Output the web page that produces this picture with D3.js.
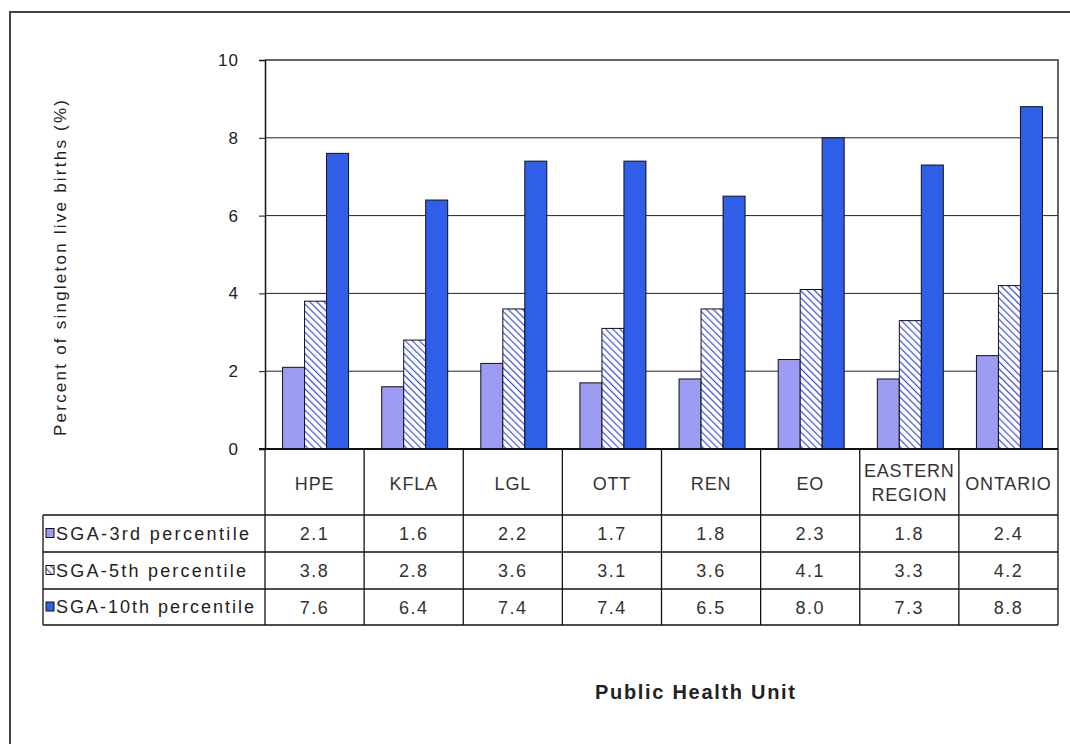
<!DOCTYPE html>
<html>
<head>
<meta charset="utf-8">
<script src="https://cdn.jsdelivr.net/npm/d3@7"></script>
<style>
body{margin:0;background:#fff;}
svg{display:block;font-family:Arial,"Liberation Sans",sans-serif;}
</style>
</head>
<body>
<svg id="chart" width="1070" height="744"></svg>
<script>
const categories = ["HPE","KFLA","LGL","OTT","REN","EO","EASTERN REGION","ONTARIO"];
const seriesNames = ["SGA-3rd percentile","SGA-5th percentile","SGA-10th percentile"];
const sga3 = [2.1,1.6,2.2,1.7,1.8,2.3,1.8,2.4];
const sga5 = [3.8,2.8,3.6,3.1,3.6,4.1,3.3,4.2];
const sga10 = [7.6,6.4,7.4,7.4,6.5,8.0,7.3,8.8];
const yTicks = [0,2,4,6,8,10];
const seriesValues = [sga3, sga5, sga10];

const svg = d3.select("#chart");
const defs = svg.append("defs");
const pat = defs.append("pattern").attr("id","hatch").attr("patternUnits","userSpaceOnUse")
  .attr("width",5).attr("height",5).attr("patternTransform","rotate(-45)");
pat.append("rect").attr("width",5).attr("height",5).attr("fill","#fff");
pat.append("line").attr("x1",0).attr("y1",0).attr("x2",0).attr("y2",5)
  .attr("stroke","#3a4fd8").attr("stroke-width",2.4);

const fills = ["#9c9cf2","url(#hatch)","#2f5fe8"];

// outer frame
svg.append("rect").attr("x",10).attr("y",12).attr("width",1080).attr("height",760)
  .attr("fill","none").attr("stroke","#444").attr("stroke-width",2);

const L=265, R=1058, T=60, B=449;
const x = d3.scaleBand().domain(categories).range([L,R]).padding(0);
const y = d3.scaleLinear().domain([0,10]).range([B,T]);
const bw = 22;
const xs = d3.scaleBand().domain(seriesNames).range([0,bw*3]);

// gridlines
svg.append("g").selectAll("line").data(yTicks.filter(t=>t>0 && t<10)).join("line")
  .attr("x1",L).attr("x2",R).attr("y1",d=>y(d)).attr("y2",d=>y(d))
  .attr("stroke","#222").attr("stroke-width",1);

// plot frame (top/right)
svg.append("path").attr("d",`M${L},${T}H${R}V${B}`).attr("fill","none")
  .attr("stroke","#333").attr("stroke-width",1.5);

// bars
categories.forEach((c,i)=>{
  const gx = x(c) + x.bandwidth()/2 - bw*1.5 + 1;
  seriesNames.forEach((s,j)=>{
    const v = seriesValues[j][i];
    svg.append("rect").attr("x",gx+xs(s)).attr("y",y(v)).attr("width",bw)
      .attr("height",y(0)-y(v)).attr("fill",fills[j]).attr("stroke","#111").attr("stroke-width",1);
  });
});

// y axis
const yAxis = d3.axisLeft(y).tickValues(yTicks).tickSize(6).tickPadding(20).tickFormat(d3.format("d"));
const ga = svg.append("g").attr("transform",`translate(${L},0)`).call(yAxis);
ga.select(".domain").attr("stroke","#111").attr("stroke-width",1.5);
ga.selectAll(".tick line").attr("stroke","#111");
ga.selectAll("text").attr("font-size",17).attr("letter-spacing",1).attr("fill","#222").attr("font-family","Arial,'Liberation Sans',sans-serif");

// baseline
svg.append("line").attr("x1",L-6).attr("x2",R).attr("y1",B).attr("y2",B).attr("stroke","#111").attr("stroke-width",2);

// y label
svg.append("text").attr("transform","translate(66,268) rotate(-90)").attr("text-anchor","middle")
  .attr("font-size",17).attr("fill","#222").attr("textLength",336).attr("lengthAdjust","spacing")
  .text("Percent of singleton live births (%)");

// table
const rowTop = [515,552,589];
const rowH = [37,37,36];
const tableBottom = 625;
const tg = svg.append("g");
categories.forEach((c,i)=>{
  tg.append("line").attr("x1",x(c)).attr("x2",x(c)).attr("y1",B).attr("y2",tableBottom)
    .attr("stroke","#111").attr("stroke-width",1.3);
});
tg.append("line").attr("x1",R).attr("x2",R).attr("y1",B).attr("y2",tableBottom).attr("stroke","#111").attr("stroke-width",1.3);
tg.append("line").attr("x1",43).attr("x2",43).attr("y1",rowTop[0]).attr("y2",tableBottom).attr("stroke","#111").attr("stroke-width",1.3);
[...rowTop, tableBottom].forEach(yy=>{
  tg.append("line").attr("x1",43).attr("x2",R).attr("y1",yy).attr("y2",yy).attr("stroke","#111").attr("stroke-width",1.3);
});
// header labels
categories.forEach(c=>{
  const cx = x(c)+x.bandwidth()/2;
  const words = c.split(" ");
  const t = tg.append("text").attr("x",cx).attr("text-anchor","middle").attr("font-size",18)
    .attr("letter-spacing",0.8).attr("fill","#333");
  if(words.length===1){
    t.attr("y",490).text(c);
  } else {
    words.forEach((w,k)=>t.append("tspan").attr("x",cx).attr("y",477+k*24).text(w));
  }
});
// legend cells + values
const legendLens = [193,190,198];
seriesNames.forEach((s,j)=>{
  const cy = rowTop[j]+rowH[j]/2;
  tg.append("rect").attr("x",46).attr("y",cy-5).attr("width",8).attr("height",9)
    .attr("fill",fills[j]).attr("stroke","#111").attr("stroke-width",1);
  tg.append("text").attr("x",56).attr("y",cy+6).attr("font-size",18).attr("fill","#222")
    .attr("textLength",legendLens[j]).attr("lengthAdjust","spacing").text(s);
  categories.forEach((c,i)=>{
    tg.append("text").attr("x",x(c)+x.bandwidth()/2).attr("y",cy+6.5).attr("text-anchor","middle")
      .attr("font-size",18).attr("letter-spacing",1.5).attr("fill","#333").text(seriesValues[j][i].toFixed(1));
  });
});

// x title
svg.append("text").attr("x",695).attr("y",699).attr("text-anchor","middle").attr("font-size",20)
  .attr("font-weight","bold").attr("fill","#222").attr("textLength",200).attr("lengthAdjust","spacing")
  .text("Public Health Unit");
</script>
</body>
</html>
